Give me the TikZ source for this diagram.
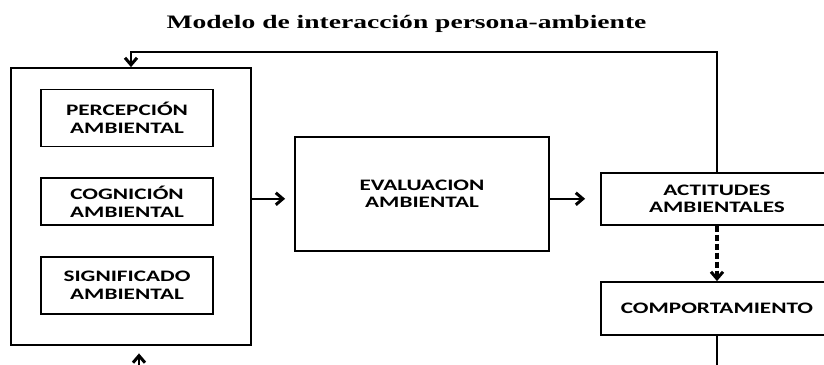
\documentclass[tikz,border=0pt]{standalone}
\usepackage{fontspec}
\usetikzlibrary{arrows.meta}
\newfontfamily\boxfont{Carlito}[FakeStretch=1.45]
\newfontfamily\titlefont{Liberation Serif}[FakeStretch=1.45]

\begin{document}
\begin{tikzpicture}[x=1pt, y=1pt, >={Straight Barb[length=7pt,width=12pt,line width=3pt]},
  box/.style={draw, line width=1.8pt, align=center, inner sep=0pt,
    font=\boxfont\bfseries\fontsize{16}{17.7}\selectfont},
  link/.style={->, line width=2.4pt}]
\useasboundingbox (0,0) rectangle (824,364);
\clip (0,0) rectangle (824,364);
% title
\node[anchor=base, font=\titlefont\bfseries\fontsize{19}{21}\selectfont] (title) at (406.5,335.5) {Modelo de interacción persona-ambiente};

% the person side: outer box and the three processes
\node[box, minimum width=240pt, minimum height=277pt] (outer) at (131,157.5) {};
\node[box, minimum width=172pt, minimum height=57pt] (percep) at (127,246) {PERCEPCIÓN\\AMBIENTAL};
\node[box, minimum width=172pt, minimum height=47pt] (cogn) at (127,162.5) {COGNICIÓN\\AMBIENTAL};
\node[box, minimum width=172pt, minimum height=57pt] (signif) at (127,78.5) {SIGNIFICADO\\AMBIENTAL};

% evaluation, attitudes and behaviour
\node[box, minimum width=254pt, minimum height=114pt] (eval) at (422,170.2) {EVALUACION\\AMBIENTAL};
\node[box, minimum width=232pt, minimum height=52pt] (actit) at (717,165.2) {ACTITUDES\\AMBIENTALES};
\node[box, minimum width=232pt, minimum height=53pt] (comport) at (717,55.5) {COMPORTAMIENTO};

% connectors
\coordinate (fb) at (131,312.3);
\coordinate (out) at (717,-10);
\coordinate (back) at (139,-10);
\draw[link, shorten >=9pt] (outer.east |- actit.west) -- (eval.west |- actit.west);
\draw[link, shorten >=15pt] (eval.east |- actit.west) -- (actit.west);
\draw[link, dash pattern=on 6pt off 3pt, line width=3.5pt] (actit) -- (comport);
\draw[link, line width=2pt] (actit.north) |- (fb) -- (outer.north);
\draw[line width=2pt] (comport.south) -- (out);
\draw[link, shorten >=7.5pt] (back) -- (back |- outer.south);
\end{tikzpicture}
\end{document}
